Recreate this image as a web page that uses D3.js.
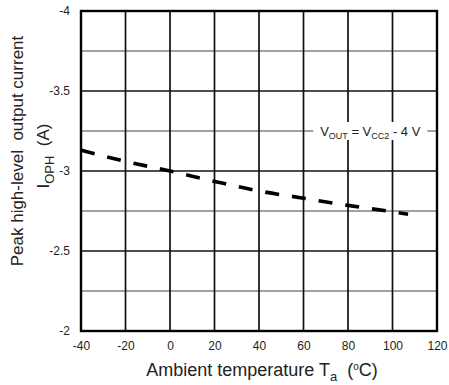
<!DOCTYPE html>
<html>
<head>
<meta charset="utf-8">
<script src="https://cdn.jsdelivr.net/npm/d3@7"></script>
<style>
  body { margin: 0; background: #fff; }
  text { font-family: "Liberation Sans", Arial, sans-serif; fill: #222; }
</style>
</head>
<body>
<div id="chart"></div>
<script>
// ambient temperature (°C) and peak high-level output current (A)
const temps = [-40, -20, 0, 20, 40, 60, 80, 100, 107];
const iOph = [-3.13, -3.06, -3.0, -2.935, -2.875, -2.83, -2.785, -2.745, -2.73];
const xTicks = [-40, -20, 0, 20, 40, 60, 80, 100, 120];
const yTicks = [-4, -3.5, -3, -2.5, -2];
const yMinor = [-3.75, -3.25, -2.75, -2.25];

const width = 449, height = 385;
const margins = { top: 11, right: 12, bottom: 54, left: 81 };
const nb = "\u00a0";

const svg = d3.select("#chart")
	.append("svg")
	.attr("width", width)
	.attr("height", height);

const x = d3.scaleLinear()
	.domain([-40, 120])
	.range([margins.left, width - margins.right]);

// -4 sits at the top
const y = d3.scaleLinear()
	.domain([-4, -2])
	.range([margins.top, height - margins.bottom]);

const grid = svg.append("g").attr("class", "grid");

// minor horizontal lines
grid.selectAll(".minor")
	.data(yMinor)
	.join("line")
	.attr("x1", x(-40)).attr("x2", x(120))
	.attr("y1", d => y(d)).attr("y2", d => y(d))
	.attr("stroke", "#444").attr("stroke-width", 1.1);

// major horizontal lines
grid.selectAll(".major")
	.data(yTicks.slice(1, -1))
	.join("line")
	.attr("x1", x(-40)).attr("x2", x(120))
	.attr("y1", d => y(d)).attr("y2", d => y(d))
	.attr("stroke", "#111").attr("stroke-width", 1.7);

// vertical lines
grid.selectAll(".vert")
	.data(xTicks.slice(1, -1))
	.join("line")
	.attr("x1", d => x(d)).attr("x2", d => x(d))
	.attr("y1", y(-4)).attr("y2", y(-2))
	.attr("stroke", "#111").attr("stroke-width", 1.7);

// condition label sitting on the -3.25 grid line
const lab = svg.append("g")
	.attr("transform", `translate(${x(90)}, ${y(-3.25)})`);
lab.append("rect")
	.attr("x", -57).attr("y", -9)
	.attr("width", 114).attr("height", 18)
	.attr("fill", "#fff");
const labText = lab.append("text")
	.attr("text-anchor", "middle")
	.attr("dy", "0.35em")
	.style("font-size", "13px");
labText.append("tspan").text("V");
labText.append("tspan").text("OUT").attr("dy", 3).style("font-size", "9px");
labText.append("tspan").text(" = V").attr("dy", -3);
labText.append("tspan").text("CC2").attr("dy", 3).style("font-size", "9px");
labText.append("tspan").text(" - 4 V").attr("dy", -3);

// frame
svg.append("rect")
	.attr("x", x(-40)).attr("y", y(-4))
	.attr("width", x(120) - x(-40))
	.attr("height", y(-2) - y(-4))
	.attr("fill", "none")
	.attr("stroke", "#000")
	.attr("stroke-width", 2.4);

// dashed curve
svg.append("path")
	.datum(temps.map((t, i) => [t, iOph[i]]))
	.attr("d", d3.line()
		.x(d => x(d[0]))
		.y(d => y(d[1]))
		.curve(d3.curveMonotoneX))
	.attr("fill", "none")
	.attr("stroke", "#000")
	.attr("stroke-width", 3.6)
	.attr("stroke-dasharray", "14 13");

// axes (labels only, the grid does the lines)
svg.append("g")
	.attr("transform", `translate(0, ${y(-2)})`)
	.call(d3.axisBottom(x).tickValues(xTicks).tickFormat(d => String(d)).tickSize(0).tickPadding(10));
svg.append("g")
	.attr("transform", `translate(${x(-40)}, 0)`)
	.call(d3.axisLeft(y).tickValues(yTicks).tickFormat(d => String(d)).tickSize(0).tickPadding(11));
svg.selectAll(".domain").remove();
svg.selectAll(".tick text")
	.style("font-family", "Liberation Sans, Arial, sans-serif")
	.style("font-size", "12px")
	.attr("fill", "#222");

// x title
const xt = svg.append("text")
	.attr("x", 262).attr("y", 376)
	.attr("text-anchor", "middle")
	.style("font-size", "18px");
xt.append("tspan").text("Ambient temperature T");
xt.append("tspan").text("a").attr("dy", 5).style("font-size", "13px");
xt.append("tspan").text(nb + nb + "(").attr("dy", -5);
xt.append("tspan").text("o").attr("dy", -6).style("font-size", "10px");
xt.append("tspan").text("C)").attr("dy", 6);

// y title, two lines
svg.append("text")
	.attr("transform", "translate(23, 151) rotate(-90)")
	.attr("text-anchor", "middle")
	.style("font-size", "17px")
	.text("Peak high-level" + nb + nb + "output current");
const yt = svg.append("text")
	.attr("transform", "translate(49, 156) rotate(-90)")
	.attr("text-anchor", "middle")
	.style("font-size", "17px");
yt.append("tspan").text("I");
yt.append("tspan").text("OPH").attr("dy", 5).style("font-size", "13px");
yt.append("tspan").text(nb + nb + "(A)").attr("dy", -5);
</script>
</body>
</html>
